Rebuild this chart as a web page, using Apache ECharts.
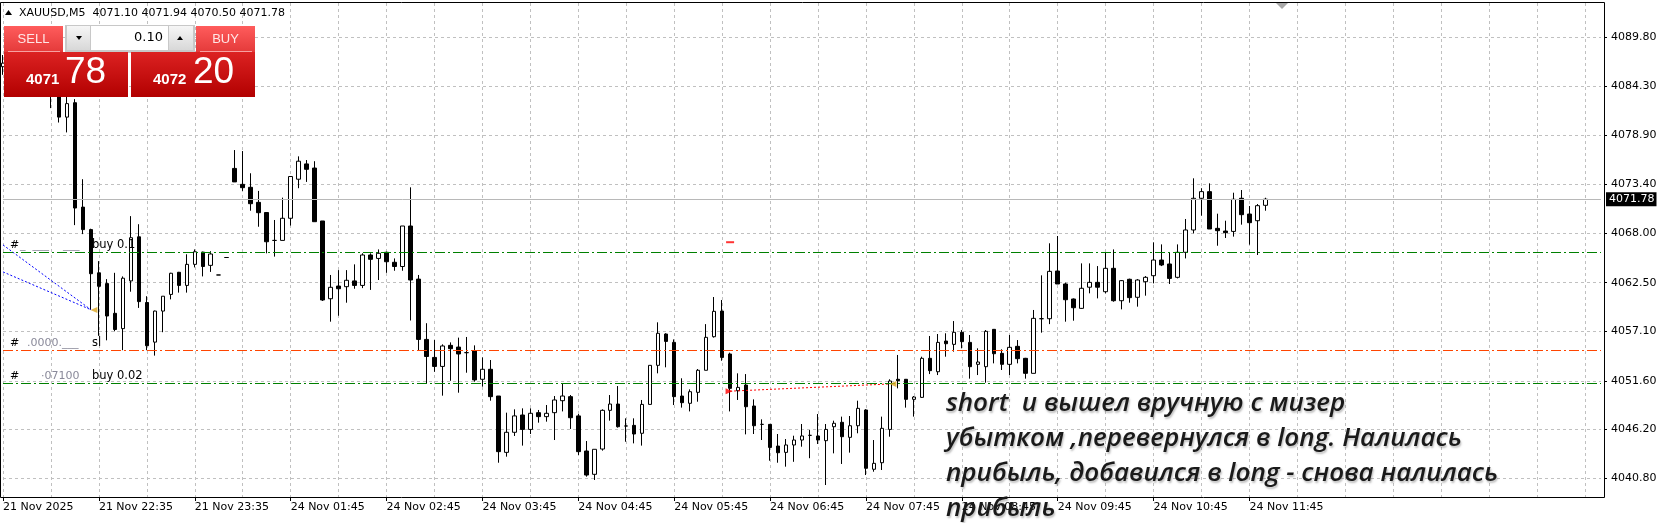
<!DOCTYPE html>
<html><head><meta charset="utf-8">
<script src="https://cdn.jsdelivr.net/npm/echarts@6/dist/echarts.min.js"></script>
<style>html,body{margin:0;padding:0;background:#fff;overflow:hidden}#c{width:1661px;height:523px}</style>
</head><body><div id="c"></div>
<script>
// ---------- DATA ----------
const openP = [4086.5,4086.9,4087.4,4086.6,4085.3,4085.9,4084.6,4083.5,4080.9,4082.5,
4070.9,4068.4,4063.6,4062.4,4059.1,4057.4,4062.7,4067.6,4060.3,4055.9,
4059.35,4061.2,4063.66,4062.2,4064.54,4065.9,4064.43,4063.36,4065.3,4075.2,
4073.43,4073.1,4071.43,4070.3,4067.2,4067.2,4069.66,4074.0,4075.7,4075.24,
4069.36,4060.72,4062.13,4062.06,4062.7,4062.2,4065.58,4065.2,4065.88,4064.77,
4064.3,4068.8,4062.9,4056.2,4054.2,4053.2,4055.54,4055.35,4054.73,4054.91,
4051.77,4052.88,4049.91,4043.65,4045.88,4047.8,4046.2,4048.06,4047.62,4048.06,
4049.39,4049.84,4047.7,4043.8,4041.21,4044.02,4048.32,4049.02,4046.58,4046.65,
4045.77,4048.98,4053.32,4056.8,4055.87,4049.91,4049.1,4050.32,4052.77,4056.5,
4059.35,4054.58,4050.5,4051.13,4048.8,4046.76,4046.76,4044.35,4043.65,4044.47,
4045.02,4045.54,4045.47,4044.95,4046.5,4046.99,4045.32,4046.61,4048.36,4041.77,
4042.5,4046.2,4051.77,4051.77,4049.54,4049.76,4054.1,4052.61,4056.02,4055.65,
4056.99,4055.87,4053.43,4053.17,4057.32,4054.65,4053.43,4055.43,4054.1,4052.43,
4058.5,4058.5,4063.8,4062.36,4060.69,4059.65,4062.0,4062.54,4061.5,4064.1,
4060.5,4062.88,4060.88,4062.61,4063.28,4065.02,4064.58,4063.1,4065.88,4068.36,
4071.88,4072.62,4068.54,4068.24,4068.2,4071.88,4070.13,4069.39,4071.10];
const highP = [4087.8,4088.2,4088.5,4087.2,4086.4,4086.8,4085.2,4083.9,4083.6,4082.9,
4074.0,4068.5,4064.9,4062.9,4063.6,4063.2,4069.9,4069.0,4061.0,4059.4,
4061.0,4063.6,4063.7,4065.66,4066.2,4065.95,4066.0,4063.36,4065.3,4077.24,
4077.13,4074.66,4072.7,4070.3,4069.47,4071.95,4074.3,4076.54,4076.13,4076.0,
4069.36,4063.36,4063.9,4063.9,4064.54,4065.77,4065.77,4066.2,4065.95,4065.2,
4068.8,4073.1,4063.36,4058.0,4056.13,4055.65,4055.87,4056.4,4056.47,4055.54,
4054.2,4053.91,4049.91,4048.06,4048.43,4048.54,4048.54,4048.36,4048.91,4049.91,
4051.32,4050.02,4047.91,4044.91,4043.99,4048.43,4050.02,4051.02,4047.43,4047.43,
4049.47,4053.32,4058.1,4056.88,4056.2,4051.88,4050.65,4052.91,4057.9,4060.91,
4060.58,4054.73,4052.43,4052.35,4049.54,4047.32,4046.8,4045.69,4045.13,4045.5,
4046.8,4046.13,4047.91,4046.8,4047.17,4047.62,4047.69,4049.39,4048.45,4045.02,
4047.62,4051.77,4054.47,4051.8,4049.91,4054.28,4056.58,4056.8,4056.88,4058.24,
4057.24,4056.69,4055.21,4057.24,4057.35,4055.1,4056.69,4056.13,4054.15,4059.47,
4063.32,4066.88,4067.69,4062.5,4060.75,4064.65,4064.65,4064.35,4065.88,4066.2,
4062.8,4062.95,4062.9,4063.24,4066.99,4066.76,4065.88,4066.76,4069.58,4074.1,
4073.0,4073.54,4070.17,4069.39,4072.5,4072.8,4071.02,4071.24,4071.94];
const lowP = [4085.6,4086.0,4086.2,4084.8,4084.5,4084.2,4081.9,4080.3,4079.2,4068.9,
4067.9,4059.5,4056.6,4056.1,4057.1,4055.0,4061.5,4059.7,4055.0,4054.4,
4057.0,4060.65,4061.4,4061.4,4064.2,4063.2,4063.7,4063.36,4065.3,4073.7,
4072.7,4070.5,4068.72,4065.77,4065.4,4067.2,4068.85,4073.0,4073.7,4069.28,
4060.47,4058.17,4058.83,4060.28,4061.83,4061.9,4061.7,4062.8,4063.6,4063.83,
4063.83,4058.3,4055.0,4051.32,4052.6,4049.95,4051.6,4050.28,4052.5,4051.5,
4050.95,4049.39,4042.5,4043.17,4045.47,4044.4,4045.69,4046.95,4047.06,4045.02,
4048.2,4046.25,4043.36,4040.95,4040.58,4043.84,4047.17,4046.4,4044.83,4044.65,
4044.4,4048.98,4052.43,4053.1,4048.91,4048.62,4048.2,4049.28,4052.77,4056.4,
4053.83,4048.2,4049.47,4045.65,4045.69,4045.02,4042.72,4042.5,4042.06,4042.6,
4044.28,4043.0,4044.58,4040.02,4043.54,4042.36,4043.62,4045.77,4041.13,4041.5,
4041.69,4045.39,4050.76,4048.62,4047.62,4049.7,4052.35,4052.24,4054.28,4054.84,
4055.21,4051.84,4052.24,4051.39,4053.54,4052.8,4052.24,4053.54,4051.84,4052.43,
4056.95,4057.9,4062.36,4058.17,4058.28,4059.6,4061.32,4060.76,4061.32,4060.39,
4059.54,4060.28,4059.84,4061.06,4062.43,4064.35,4062.36,4062.98,4065.2,4067.99,
4069.95,4068.47,4066.61,4067.47,4067.62,4068.95,4066.73,4065.58,4070.50];
const closeP = [4086.9,4087.4,4086.6,4085.3,4085.9,4084.6,4083.5,4080.9,4082.4,4070.8,
4068.4,4063.5,4062.1,4058.8,4057.3,4063.0,4067.5,4060.4,4055.5,4059.35,
4061.0,4063.55,4062.2,4064.54,4065.94,4064.3,4065.69,4063.36,4065.3,4073.7,
4073.06,4071.28,4070.28,4067.05,4067.2,4069.66,4074.3,4076.0,4075.1,4069.28,
4060.58,4061.99,4061.83,4062.77,4062.2,4065.58,4065.1,4065.77,4064.83,4064.3,
4068.8,4062.8,4056.2,4054.3,4053.2,4055.47,4055.17,4054.58,4054.73,4051.7,
4052.88,4049.84,4043.73,4045.88,4047.7,4046.2,4047.99,4047.62,4047.99,4049.47,
4049.91,4047.5,4043.73,4041.13,4043.99,4048.32,4049.02,4046.5,4046.58,4045.69,
4048.98,4053.32,4056.88,4055.98,4049.84,4049.17,4050.39,4052.77,4056.43,4059.32,
4054.2,4050.76,4050.87,4048.72,4046.61,4046.76,4044.2,4043.61,4044.47,4045.02,
4045.47,4045.54,4045.02,4046.2,4046.88,4045.39,4046.61,4048.54,4041.88,4042.43,
4046.32,4051.58,4051.62,4049.54,4049.8,4054.1,4052.73,4055.87,4055.72,4056.99,
4055.95,4053.17,4053.69,4057.1,4054.61,4053.43,4055.32,4054.06,4052.43,4058.54,
4058.5,4063.76,4062.36,4060.61,4059.72,4061.88,4062.54,4062.0,4064.1,4060.5,
4062.73,4060.84,4062.8,4063.1,4065.02,4064.47,4062.98,4065.88,4068.36,4071.88,
4072.62,4068.47,4068.28,4068.06,4071.77,4070.06,4069.17,4071.06,4071.78];

const xTickLabels = ['21 Nov 2025','21 Nov 22:35','21 Nov 23:35','24 Nov 01:45','24 Nov 02:45',
  '24 Nov 03:45','24 Nov 04:45','24 Nov 05:45','24 Nov 06:45','24 Nov 07:45','24 Nov 08:45',
  '24 Nov 09:45','24 Nov 10:45','24 Nov 11:45'];
const yTickLabels = ['4040.80','4046.20','4051.60','4057.10','4062.50','4068.00','4073.40','4078.90','4084.30','4089.80'];

const levelBuy1 = 4065.88, levelSL = 4055.0, levelBuy2 = 4051.32, lastPrice = 4071.78;
const blueLine1 = [[0, 4066.7], [11, 4059.5]];
const blueLine2 = [[0, 4063.7], [11, 4059.5]];
const redTrade = [[91, 4050.45], [111, 4051.25]];
const closeMarks = [[11, 4059.47], [111, 4051.25]];
const openMarks = [[91, 4050.45]];
const pendingMark = [[91, 4067.0]];

// categories: M5 bars, two sessions
const sessions = [['21 Nov', 21*60+35, 29], ['24 Nov', 1*60+10, 172]];
const categories = [];
sessions.forEach(([d, start, n]) => {
  for (let k = 0; k < n; k++) {
    const t = start + 5*k, h = Math.floor(t/60) % 24, m = t % 60;
    categories.push(d + ' ' + String(h).padStart(2,'0') + ':' + String(m).padStart(2,'0'));
  }
});
const candles = openP.map((o, i) => [o, closeP[i], lowP[i], highP[i]]);

// ---------- CHART ----------
const FONT = 'DejaVu Sans';
const chart = echarts.init(document.getElementById('c'));
const GRID_COL = '#c0c0c0';
const tickShow = i => i % 12 === 0 && i <= 156;
chart.setOption({
  animation: false,
  backgroundColor: '#ffffff',
  grid: { left: 1, top: 3, width: 1600, height: 494, show: false },
  xAxis: {
    type: 'category', data: categories, boundaryGap: false,
    axisLine: { show: false },
    axisTick: { show: true, interval: tickShow, length: 4, lineStyle: { color: '#000' } },
    axisLabel: { show: true, interval: tickShow, align: 'left', margin: 5, color: '#000',
      fontFamily: FONT, fontSize: 11, formatter: (v, i) => xTickLabels[i / 12] || '' },
    splitLine: { show: true, interval: 5, lineStyle: { color: GRID_COL, type: [3, 3], width: 1 } }
  },
  yAxis: {
    type: 'value', position: 'right', offset: 3, min: 4038.69, max: 4093.58, scale: true,
    axisLine: { show: false },
    axisTick: { show: true, customValues: yTickLabels.map(Number), length: 3, lineStyle: { color: '#000' } },
    axisLabel: { show: true, customValues: yTickLabels.map(Number), margin: 7, color: '#000',
      fontFamily: FONT, fontSize: 11, formatter: v => v.toFixed(2) },
    splitLine: { show: true, lineStyle: { color: GRID_COL, type: [3, 3], width: 1 } }
  },
  series: [
    {
      type: 'candlestick', data: candles, barWidth: 4,
      itemStyle: { color: '#ffffff', color0: '#000000', borderColor: '#000000', borderColor0: '#000000', borderWidth: 1 },
      markLine: {
        silent: true, symbol: ['none', 'none'], animation: false,
        label: { show: false },
        data: [
          { yAxis: lastPrice, lineStyle: { color: '#b8b8b8', type: 'solid', width: 1 },
            label: { show: true, position: 'end', distance: 5, formatter: '4071.78', color: '#fff',
              backgroundColor: '#000', padding: [2, 2, 1, 3], fontFamily: FONT, fontSize: 11 } },
          { yAxis: levelBuy1, lineStyle: { color: '#008000', type: [10, 3, 2, 3], width: 1 } },
          { yAxis: levelSL, lineStyle: { color: '#ff4500', type: [10, 3, 2, 3], width: 1 } },
          { yAxis: levelBuy2, lineStyle: { color: '#008000', type: [10, 3, 2, 3], width: 1 } }
        ]
      },
      z: 3
    },
    { type: 'line', data: blueLine1, symbol: 'none', silent: true, lineStyle: { color: '#0000ff', width: 1, type: [2, 2] }, z: 4 },
    { type: 'line', data: blueLine2, symbol: 'none', silent: true, lineStyle: { color: '#0000ff', width: 1, type: [2, 2] }, z: 4 },
    { type: 'line', data: redTrade, symbol: 'none', silent: true, lineStyle: { color: '#ff0000', width: 1, type: [2, 2] }, z: 4 },
    { type: 'scatter', data: closeMarks, symbol: 'triangle', symbolRotate: 90, symbolSize: [6, 7], symbolOffset: [3, 0],
      itemStyle: { color: '#daa520' }, silent: true, z: 5 },
    { type: 'scatter', data: openMarks, symbol: 'triangle', symbolRotate: -90, symbolSize: [6, 7], symbolOffset: [-1, 0],
      itemStyle: { color: '#ff0000' }, silent: true, z: 5 },
    { type: 'scatter', data: pendingMark, symbol: 'rect', symbolSize: [8, 2],
      itemStyle: { color: '#ff0000' }, silent: true, z: 5 }
  ]
});

// ---------- ANNOTATIONS ----------
const py = v => chart.convertToPixel({ yAxisIndex: 0 }, v);
function orderLabel(price, faint, txt) {
  const y = py(price) - 7;
  return [
    { type: 'text', z: 20, style: { x: 10, y: y, text: '#', fill: '#000', fontFamily: FONT, fontSize: 11, verticalAlign: 'middle' } },
    { type: 'text', z: 20, style: { x: 20, y: y, text: faint, fill: '#8a8a9a', fontFamily: FONT, fontSize: 11, verticalAlign: 'middle' } },
    { type: 'text', z: 20, style: { x: 92, y: y, text: txt, fill: '#000', fontFamily: FONT, fontSize: 11.5, verticalAlign: 'middle' } }
  ];
}
const grad = (a, b) => new echarts.graphic.LinearGradient(0, 0, 0, 1, [{ offset: 0, color: a }, { offset: 1, color: b }]);
const g = [];
// border
g.push({ type: 'rect', z: 30, shape: { x: 0.5, y: 2.5, width: 1604, height: 495 }, style: { fill: 'none', stroke: '#000', lineWidth: 1 } });
// shift marker
g.push({ type: 'polygon', z: 30, shape: { points: [[1276, 3], [1288, 3], [1282, 9]] }, style: { fill: '#a8a8a8' } });
// header
g.push({ type: 'polygon', z: 30, shape: { points: [[5, 15], [12, 15], [8.5, 10]] }, style: { fill: '#000' } });
g.push({ type: 'text', z: 30, style: { x: 19, y: 13, text: 'XAUUSD,M5  4071.10 4071.94 4070.50 4071.78', fill: '#000',
  fontFamily: FONT, fontSize: 11, verticalAlign: 'middle' } });
// order labels
g.push(...orderLabel(levelBuy1, '_  ___    ___', 'buy 0.1'));
g.push(...orderLabel(levelSL, '  .0000.___', 'sl'));
g.push(...orderLabel(levelBuy2, '      ·07100', 'buy 0.02'));
// trade panel
g.push({ type: 'rect', z: 40, shape: { x: 4, y: 26, width: 59, height: 26 }, style: { fill: grad('#ff5c5c', '#e43a3a') } });
g.push({ type: 'rect', z: 40, shape: { x: 196, y: 26, width: 59, height: 26 }, style: { fill: grad('#ff5c5c', '#e43a3a') } });
g.push({ type: 'line', z: 41, shape: { x1: 8, y1: 51.5, x2: 60, y2: 51.5 }, style: { stroke: '#f7a0a0', lineWidth: 1 } });
g.push({ type: 'line', z: 41, shape: { x1: 200, y1: 51.5, x2: 252, y2: 51.5 }, style: { stroke: '#f7a0a0', lineWidth: 1 } });
g.push({ type: 'text', z: 42, style: { x: 33.5, y: 39, text: 'SELL', fill: '#ffe6e6', fontFamily: 'Liberation Sans', fontSize: 13, align: 'center', verticalAlign: 'middle' } });
g.push({ type: 'text', z: 42, style: { x: 225.5, y: 39, text: 'BUY', fill: '#ffe6e6', fontFamily: 'Liberation Sans', fontSize: 13, align: 'center', verticalAlign: 'middle' } });
g.push({ type: 'rect', z: 40, shape: { x: 65, y: 25, width: 130, height: 28 }, style: { fill: '#c8c8c8' } });
g.push({ type: 'rect', z: 41, shape: { x: 67, y: 26, width: 23, height: 24 }, style: { fill: grad('#f6f6f6', '#d8d8d8') } });
g.push({ type: 'rect', z: 41, shape: { x: 169, y: 26, width: 24, height: 24 }, style: { fill: grad('#f6f6f6', '#d8d8d8') } });
g.push({ type: 'rect', z: 41, shape: { x: 91, y: 26, width: 77, height: 24 }, style: { fill: '#ffffff' } });
g.push({ type: 'polygon', z: 42, shape: { points: [[76, 36], [82, 36], [79, 40]] }, style: { fill: '#000' } });
g.push({ type: 'polygon', z: 42, shape: { points: [[177, 40], [183, 40], [180, 36]] }, style: { fill: '#000' } });
g.push({ type: 'text', z: 42, style: { x: 163, y: 38, text: '0.10', fill: '#000', fontFamily: FONT, fontSize: 13, align: 'right', verticalAlign: 'middle' } });
g.push({ type: 'rect', z: 40, shape: { x: 4, y: 52, width: 124, height: 45 }, style: { fill: grad('#dc2222', '#b20000') } });
g.push({ type: 'rect', z: 40, shape: { x: 131, y: 52, width: 124, height: 45 }, style: { fill: grad('#dc2222', '#b20000') } });
g.push({ type: 'text', z: 42, style: { x: 26, y: 87, text: '4071', fill: '#fff', fontFamily: 'Liberation Sans', fontWeight: 'bold', fontSize: 15, verticalAlign: 'bottom' } });
g.push({ type: 'text', z: 42, style: { x: 65, y: 91, text: '78', fill: '#fff', fontFamily: 'Liberation Sans', fontSize: 37, verticalAlign: 'bottom' } });
g.push({ type: 'text', z: 42, style: { x: 153, y: 87, text: '4072', fill: '#fff', fontFamily: 'Liberation Sans', fontWeight: 'bold', fontSize: 15, verticalAlign: 'bottom' } });
g.push({ type: 'text', z: 42, style: { x: 193, y: 91, text: '20', fill: '#fff', fontFamily: 'Liberation Sans', fontSize: 37, verticalAlign: 'bottom' } });
// comment text
const comment = ['short  и вышел вручную с мизер', 'убытком ,перевернулся в long. Налилась',
  'прибыль, добавился в long - снова налилась', 'прибыль'];
const commentY = [404, 439, 474, 509];
comment.forEach((t, k) => g.push({ type: 'text', z: 50, style: { x: 946, y: commentY[k], text: t, fill: '#1a1a1a',
  fontFamily: 'Open Sans', fontStyle: 'italic', fontWeight: 600, fontSize: 26, verticalAlign: 'middle',
  textShadowColor: 'rgba(0,0,0,0.25)', textShadowBlur: 2, textShadowOffsetX: 1, textShadowOffsetY: 2 } }));
chart.setOption({ graphic: g });
</script></body></html>
